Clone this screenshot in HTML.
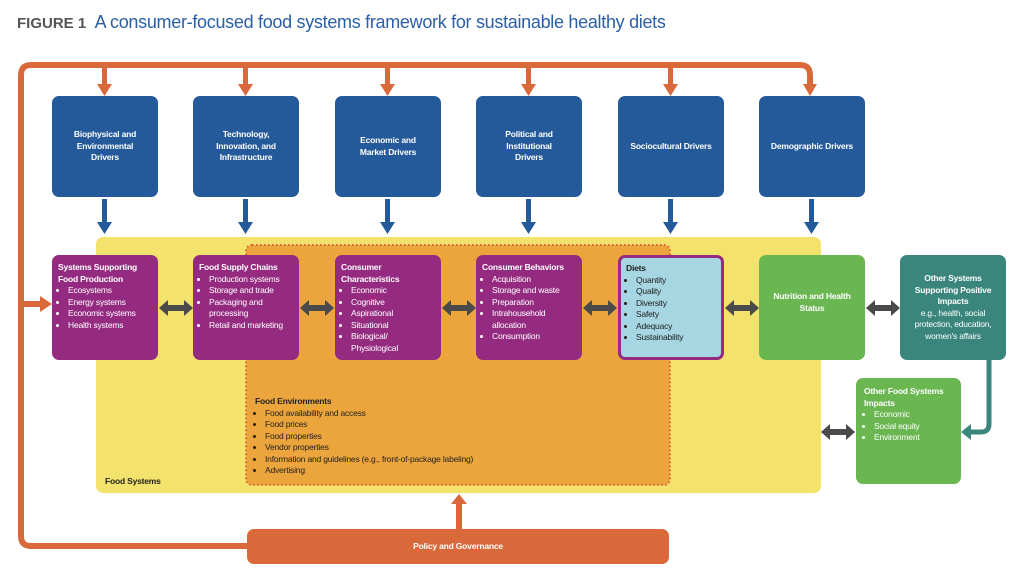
<!DOCTYPE html>
<html><head><meta charset="utf-8"><style>
body{margin:0;width:1024px;height:582px;background:#fff;position:relative;overflow:hidden;font-family:"Liberation Sans",sans-serif}
.b{position:absolute;border-radius:7px;color:#fff;font-size:8.5px;line-height:11.5px;font-weight:bold;box-sizing:border-box;letter-spacing:-0.2px}
.blue{background:#24599a;display:flex;align-items:center;justify-content:center;text-align:center;padding:0 16px}
.pur{background:#952b80;padding:7px 6px}
ul{margin:0;padding:0 0 0 10px;font-weight:normal}
li{margin:0}
.t{position:absolute;font-size:8.5px;line-height:11.5px;font-weight:bold;color:#222;letter-spacing:-0.2px}
</style></head><body>
<div style="position:absolute;left:17px;top:12px;font-size:18px;white-space:nowrap;letter-spacing:-0.3px"><b style="color:#555;font-size:15px;letter-spacing:0">FIGURE 1</b>&nbsp; <span style="color:#2a5ea6">A consumer-focused food systems framework for sustainable healthy diets</span></div>
<svg width="1024" height="582" style="position:absolute;left:0;top:0">
<path d="M248 546 H31 Q21 546 21 536 V75 Q21 65 31 65 H800 Q810 65 810 75 V85" fill="none" stroke="#d9693a" stroke-width="6"/>
<g fill="#d9693a">
<polygon points="803,84 817,84 810,96"/>
<rect x="102" y="65" width="5" height="20"/><polygon points="97,84 112,84 104.5,96"/>
<rect x="243" y="65" width="5" height="20"/><polygon points="238,84 253,84 245.5,96"/>
<rect x="385" y="65" width="5" height="20"/><polygon points="380,84 395,84 387.5,96"/>
<rect x="526" y="65" width="5" height="20"/><polygon points="521,84 536,84 528.5,96"/>
<rect x="668" y="65" width="5" height="20"/><polygon points="663,84 678,84 670.5,96"/>
<rect x="21" y="301" width="22" height="6"/><polygon points="40,296 52,304 40,312"/>
</g>
<rect x="96" y="237" width="725" height="256" rx="7" fill="#f3e26b"/>
<rect x="246" y="245" width="424" height="240" rx="6" fill="#eca53d" stroke="#d9603a" stroke-width="2" stroke-dasharray="1.5 2.5"/>
<g fill="#24599a">
<rect x="102" y="199" width="5" height="24"/><polygon points="97,222 112,222 104.5,234"/>
<rect x="243" y="199" width="5" height="24"/><polygon points="238,222 253,222 245.5,234"/>
<rect x="385" y="199" width="5" height="24"/><polygon points="380,222 395,222 387.5,234"/>
<rect x="526" y="199" width="5" height="24"/><polygon points="521,222 536,222 528.5,234"/>
<rect x="668" y="199" width="5" height="24"/><polygon points="663,222 678,222 670.5,234"/>
<rect x="809" y="199" width="5" height="24"/><polygon points="804,222 819,222 811.5,234"/>
</g>
<g fill="#4a4a4a">
<polygon points="159,308 168,300 168,305 184,305 184,300 193,308 184,316 184,311 168,311 168,316"/>
<polygon points="300,308 309,300 309,305 325,305 325,300 334,308 325,316 325,311 309,311 309,316"/>
<polygon points="442,308 451,300 451,305 467,305 467,300 476,308 467,316 467,311 451,311 451,316"/>
<polygon points="583,308 592,300 592,305 608,305 608,300 617,308 608,316 608,311 592,311 592,316"/>
<polygon points="725,308 734,300 734,305 750,305 750,300 759,308 750,316 750,311 734,311 734,316"/>
<polygon points="866,308 875,300 875,305 891,305 891,300 900,308 891,316 891,311 875,311 875,316"/>
<polygon points="821,432 830,424 830,429 846,429 846,424 855,432 846,440 846,435 830,435 830,440"/>
</g>
<path d="M989 360 V424 Q989 432 981 432 H970" fill="none" stroke="#3a857c" stroke-width="5"/>
<polygon points="961,432 971,424 971,440" fill="#3a857c"/>
<g fill="#d9693a"><rect x="456" y="503" width="6" height="27"/><polygon points="451,504 467,504 459,494"/></g>
</svg>
<div class="b blue" style="left:52px;top:96px;width:106px;height:101px">Biophysical and Environmental Drivers</div>
<div class="b blue" style="left:193px;top:96px;width:106px;height:101px">Technology, Innovation, and Infrastructure</div>
<div class="b blue" style="left:335px;top:96px;width:106px;height:101px">Economic and Market Drivers</div>
<div class="b blue" style="left:476px;top:96px;width:106px;height:101px">Political and Institutional Drivers</div>
<div class="b blue" style="left:618px;top:96px;width:106px;height:101px;padding:0 4px">Sociocultural Drivers</div>
<div class="b blue" style="left:759px;top:96px;width:106px;height:101px;padding:0 4px">Demographic Drivers</div>
<div class="b pur" style="left:52px;top:255px;width:106px;height:105px">Systems Supporting Food Production<ul><li>Ecosystems</li><li>Energy systems</li><li>Economic systems</li><li>Health systems</li></ul></div>
<div class="b pur" style="left:193px;top:255px;width:106px;height:105px">Food Supply Chains<ul><li>Production systems</li><li>Storage and trade</li><li>Packaging and processing</li><li>Retail and marketing</li></ul></div>
<div class="b pur" style="left:335px;top:255px;width:106px;height:105px">Consumer Characteristics<ul><li>Economic</li><li>Cognitive</li><li>Aspirational</li><li>Situational</li><li>Biological/ Physiological</li></ul></div>
<div class="b pur" style="left:476px;top:255px;width:106px;height:105px">Consumer Behaviors<ul><li>Acquisition</li><li>Storage and waste</li><li>Preparation</li><li>Intrahousehold allocation</li><li>Consumption</li></ul></div>
<div class="b" style="left:618px;top:255px;width:106px;height:105px;background:#a5d6e2;border:3px solid #952b80;color:#222;padding:5px 5px">Diets<ul><li>Quantity</li><li>Quality</li><li>Diversity</li><li>Safety</li><li>Adequacy</li><li>Sustainability</li></ul></div>
<div class="b" style="left:759px;top:255px;width:106px;height:105px;background:#6ab651;display:flex;align-items:center;justify-content:center;text-align:center;padding:0 10px 10px">Nutrition and Health Status</div>
<div class="b" style="left:900px;top:255px;width:106px;height:105px;background:#3a857c;text-align:center;padding:18px 3px 0">Other Systems Supporting Positive Impacts<br><span style="font-weight:normal">e.g., health, social protection, education, women's affairs</span></div>
<div class="b" style="left:856px;top:378px;width:105px;height:106px;background:#6ab651;padding:8px 8px">Other Food Systems Impacts<ul><li>Economic</li><li>Social equity</li><li>Environment</li></ul></div>
<div class="t" style="left:255px;top:396px">Food Environments<ul><li>Food availability and access</li><li>Food prices</li><li>Food properties</li><li>Vendor properties</li><li>Information and guidelines (e.g., front-of-package labeling)</li><li>Advertising</li></ul></div>
<div class="t" style="left:105px;top:476px">Food Systems</div>
<div class="b" style="left:247px;top:529px;width:422px;height:35px;background:#d9693a;display:flex;align-items:center;justify-content:center">Policy and Governance</div>
</body></html>
